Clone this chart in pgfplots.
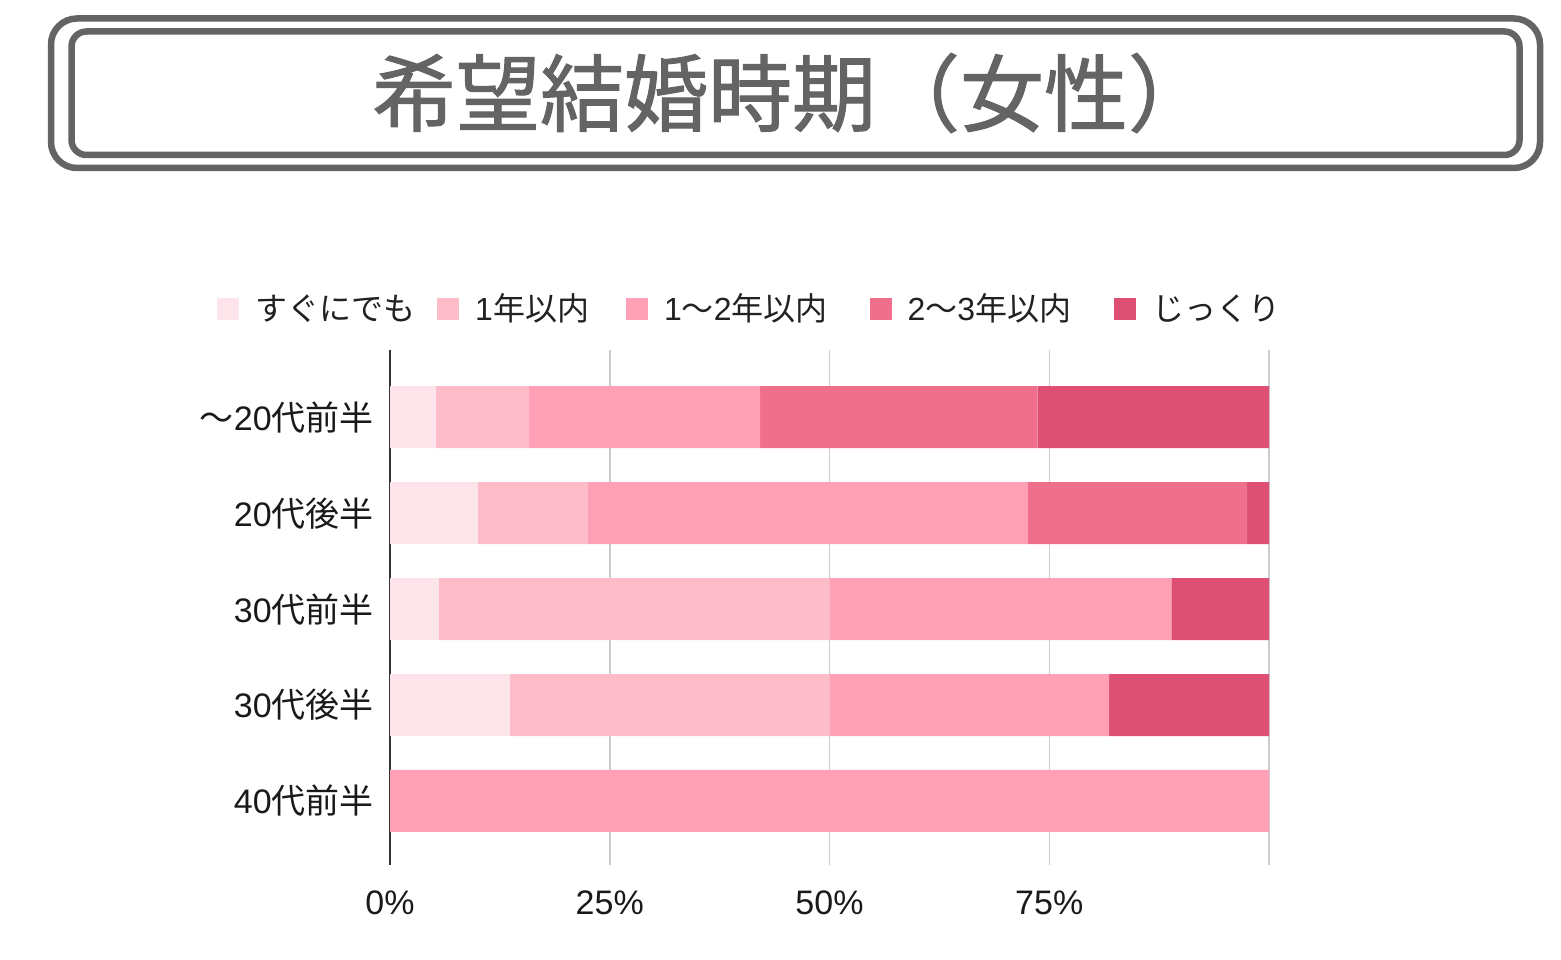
\documentclass[border=0pt]{standalone}
\usepackage{fontspec}
\setmainfont{Noto Sans CJK JP}
\newfontfamily\titlefont[FakeBold=1.2]{Noto Sans CJK JP}
\newfontfamily\lat{Liberation Sans}
\usepackage{pgfplots}
\pgfplotsset{compat=1.18}

\definecolor{c1}{HTML}{FCE4EA}
\definecolor{c2}{HTML}{FDBCCA}
\definecolor{c3}{HTML}{FFA0B6}
\definecolor{c4}{HTML}{EF6F8C}
\definecolor{c5}{HTML}{DD5073}
\definecolor{framegray}{HTML}{646464}
\definecolor{gridgray}{HTML}{CCCCCC}
\definecolor{axisgray}{HTML}{333333}

\begin{document}
\begin{tikzpicture}
\useasboundingbox (0pt,0pt) rectangle (1561pt,960pt);
% title frame
\draw[line width=6.5pt, framegray, rounded corners=26pt] (51pt,792pt) rectangle (1540pt,941.5pt);
\draw[line width=6.5pt, framegray, rounded corners=15pt] (71.5pt,805pt) rectangle (1519.5pt,928.5pt);
\node[text=framegray, font=\titlefont\fontsize{84}{92}\selectfont] at (792pt,867pt) {希望結婚時期（女性）};

\begin{axis}[
  at={(390pt,95pt)}, anchor=south west,
  scale only axis, width=879pt, height=515pt,
  xbar stacked, bar width=62pt,
  xmin=0, xmax=100, ymin=-0.7, ymax=4.667, y dir=reverse,
  axis lines*=left,
  x axis line style={draw=none},
  y axis line style={draw=axisgray, line width=2pt},
  xtick={0,25,50,75,100},
  xticklabels={0\%,25\%,50\%,75\%,{}},
  ytick={0,1,2,3,4},
  yticklabels={〜{\lat 20}代前半,{\lat 20}代後半,{\lat 30}代前半,{\lat 30}代後半,{\lat 40}代前半},
  major tick length=0pt,
  xmajorgrids,
  major grid style={draw=gridgray, line width=1.5pt},
  tick label style={font=\fontsize{34}{40}\selectfont, text=black!90},
  /pgf/number format/assume math mode=true,
  xticklabel style={anchor=north, inner sep=0pt, yshift=-26pt, font=\lat\fontsize{34}{40}\selectfont},
  yticklabel style={anchor=east, inner sep=0pt, xshift=-16pt},
  legend columns=-1,
  legend image code/.code={\fill[#1] (0pt,-12pt) rectangle (22pt,10pt);},
  legend style={at={(-0.1968,1.0816)}, anchor=west, draw=none, fill=none,
    inner sep=0pt, font=\fontsize{32}{37}\selectfont, text=black!87,
    nodes={inner sep=0pt},
    /tikz/every odd column/.append style={column sep=16pt},
    /tikz/column 2/.append style={column sep=22pt},
    /tikz/column 4/.append style={column sep=37pt},
    /tikz/column 6/.append style={column sep=42pt},
    /tikz/column 8/.append style={column sep=43pt}},
]
\addplot[fill=c1, draw=none] coordinates {(5.26,0) (10.0,1) (5.56,2) (13.64,3) (0,4)};
\addplot[fill=c2, draw=none] coordinates {(10.53,0) (12.5,1) (44.44,2) (36.36,3) (0,4)};
\addplot[fill=c3, draw=none] coordinates {(26.32,0) (50.0,1) (38.89,2) (31.82,3) (100,4)};
\addplot[fill=c4, draw=none] coordinates {(31.58,0) (25.0,1) (0,2) (0,3) (0,4)};
\addplot[fill=c5, draw=none] coordinates {(26.31,0) (2.5,1) (11.11,2) (18.18,3) (0,4)};
\legend{すぐにでも,{\lat 1}年以内,{\lat 1}〜{\lat 2}年以内,{\lat 2}〜{\lat 3}年以内,じっくり}
\end{axis}
\end{tikzpicture}
\end{document}
